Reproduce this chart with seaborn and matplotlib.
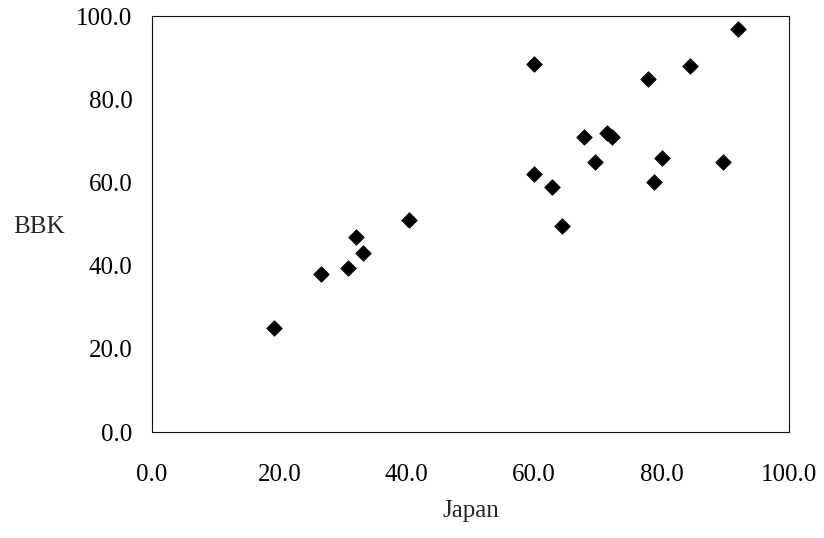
import matplotlib
matplotlib.use("Agg")
import matplotlib.pyplot as plt
import seaborn as sns
import pandas as pd

japan = [19.2, 26.6, 30.8, 32.0, 33.2, 40.4, 60.0, 60.0, 62.8, 64.4,
         67.8, 69.6, 71.5, 72.2, 77.9, 78.8, 80.0, 84.4, 89.7, 92.0]
bbk = [25.0, 38.0, 39.5, 47.0, 43.0, 51.0, 88.5, 62.0, 59.0, 49.5,
       71.0, 65.0, 72.0, 71.0, 85.0, 60.0, 66.0, 88.0, 65.0, 96.8]
ticks = [0, 20, 40, 60, 80, 100]
tick_labels = ["0.0", "20.0", "40.0", "60.0", "80.0", "100.0"]

df = pd.DataFrame({"Japan": japan, "BBK": bbk})

sns.set_style("white")
plt.rcParams["font.family"] = ["Liberation Serif", "DejaVu Serif"]

fig = plt.figure(figsize=(8.24, 5.38), dpi=100)
ax = fig.add_axes([0.1845, 0.197, 0.773, 0.773])
sns.scatterplot(data=df, x="Japan", y="BBK", marker="D", s=62,
                color="black", edgecolor="black", linewidth=0.6, ax=ax)

ax.set_xlim(0, 100)
ax.set_ylim(0, 100)
ax.set_xticks(ticks)
ax.set_xticklabels(tick_labels)
ax.set_yticks(ticks)
ax.set_yticklabels(tick_labels)
ax.tick_params(direction="in", length=4.5, width=0.7, colors="black",
               labelsize=18)
ax.tick_params(axis="x", pad=23)
ax.tick_params(axis="y", pad=14)
for sp in ax.spines.values():
    sp.set_visible(True)
    sp.set_color("#111111")
    sp.set_linewidth(0.8)

ax.set_xlabel("Japan", fontsize=18, labelpad=10)
ax.set_ylabel("BBK", fontsize=18, rotation=0, ha="center", va="center")
ax.yaxis.set_label_coords(-0.178, 0.494)

fig.savefig("out.png", dpi=100)
